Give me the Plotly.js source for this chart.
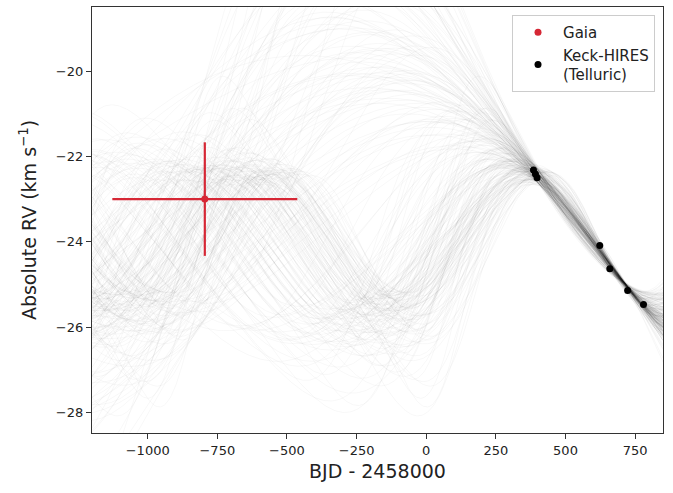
<!DOCTYPE html>
<html>
<head>
<meta charset="utf-8">
<script src="https://cdn.plot.ly/plotly-3.0.1.min.js"></script>
<style>
  html, body { margin: 0; padding: 0; background: #ffffff; }
  #chart { width: 673px; height: 493px; }
</style>
</head>
<body>
<div id="chart"></div>
<script>
// Keck-HIRES (telluric) radial velocities, BJD - 2458000 and km/s
const keckTime = [385, 392, 398, 623, 659, 723, 780];
const keckRV   = [-22.32, -22.41, -22.50, -24.09, -24.63, -25.14, -25.47];
const keckErr  = 0.12;

// Gaia DR2 radial velocity (epoch span shown as horizontal bar)
const gaiaTime = [-795];
const gaiaRV   = [-23.0];
const gaiaTimeErr = [332];
const gaiaRVErr   = [1.33];

// Orbit samples: periods (d), velocity at the Gaia epoch, orbit shapes
// (eccentricity, periastron phase from BJD 2458600) and offsets between
// the 2018 and 2019 Keck seasons, used in turn
const periods = [860, 880, 900, 920, 940, 960, 980, 1000, 1020, 1040, 1060, 1080,
                 1100, 1125, 1150, 1175, 1200, 1230, 1260, 1300, 1340, 1390, 1440,
                 1500, 1570, 1650, 1740, 1840, 1960, 2100, 2260, 2450, 2680, 2950,
                 3300, 3750, 4300];
const gaiaDraws = [-25.8, -25.3, -24.8, -24.3, -23.8, -23.3, -22.8, -22.5,
                   -22.2, -21.6, -20.8, -20.2];
const gaiaDrawErr = 0.25;
const shapeEcc   = [0, 0.15, 0.12, 0.2, 0.08, 0.25, 0.1];
const shapePhase = [0, 0.0, 0.3, 0.55, 0.8, 0.45, 0.65];
const seasonOffset = [0, -0.16, 0.16, -0.08, 0.08];

const xTicks = [-1000, -750, -500, -250, 0, 250, 500, 750];
const yTicks = [-28, -26, -24, -22, -20];

// --- Keplerian helpers -------------------------------------------------
function trueAnomaly(t, P, e, tp) {
  let M = 2 * Math.PI * (t - tp) / P;
  M = M - 2 * Math.PI * Math.floor((M + Math.PI) / (2 * Math.PI));
  let E = M + e * Math.sin(M);
  for (let i = 0; i < 12; i++) {
    E = E - (E - e * Math.sin(E) - M) / (1 - e * Math.cos(E));
  }
  return 2 * Math.atan2(Math.sqrt(1 + e) * Math.sin(E / 2), Math.sqrt(1 - e) * Math.cos(E / 2));
}

function solve3(A, b) {
  const M = A.map((r, i) => r.concat([b[i]]));
  for (let i = 0; i < 3; i++) {
    let p = i;
    for (let r = i + 1; r < 3; r++) if (Math.abs(M[r][i]) > Math.abs(M[p][i])) p = r;
    if (Math.abs(M[p][i]) < 1e-12) return null;
    [M[i], M[p]] = [M[p], M[i]];
    for (let r = 0; r < 3; r++) {
      if (r === i) continue;
      const f = M[r][i] / M[i][i];
      for (let k = i; k < 4; k++) M[r][k] -= f * M[i][k];
    }
  }
  return [M[0][3] / M[0][0], M[1][3] / M[1][1], M[2][3] / M[2][2]];
}

// weighted least squares for v = c0 + c1 cos(nu) + c2 sin(nu)
function fitOrbit(P, e, tp, vGaia, dEarly) {
  const ts = keckTime.concat(gaiaTime);
  const vs = keckRV.map((v, i) => keckTime[i] < 500 ? v + dEarly : v).concat([vGaia]);
  const ss = keckTime.map(() => keckErr).concat([gaiaDrawErr]);
  const A = [[0,0,0],[0,0,0],[0,0,0]], b = [0,0,0];
  const rows = ts.map(t => {
    const nu = trueAnomaly(t, P, e, tp);
    return [1, Math.cos(nu), Math.sin(nu)];
  });
  rows.forEach((r, i) => {
    const w = 1 / (ss[i] * ss[i]);
    for (let j = 0; j < 3; j++) {
      b[j] += w * r[j] * vs[i];
      for (let k = 0; k < 3; k++) A[j][k] += w * r[j] * r[k];
    }
  });
  const c = solve3(A, b);
  if (!c) return null;
  let chi2 = 0;
  rows.forEach((r, i) => {
    const m = c[0] + c[1] * r[1] + c[2] * r[2];
    chi2 += Math.pow((vs[i] - m) / ss[i], 2);
  });
  return { c, chi2, K: Math.hypot(c[1], c[2]) };
}

// --- build orbit curves ------------------------------------------------
const tGrid = [];
for (let t = -1200; t <= 850; t += 5) tGrid.push(t);

const traces = [];
let k = 0;
periods.forEach(P => {
  gaiaDraws.forEach(vG => {
    const s = k % shapeEcc.length;
    const e = shapeEcc[s];
    const tp = 600 + shapePhase[s] * P;
    const d = seasonOffset[k % seasonOffset.length];
    k++;
    const f = fitOrbit(P, e, tp, vG, d);
    if (!f || f.chi2 > 26 || f.K > 6.5) return;
    traces.push({
      x: tGrid,
      y: tGrid.map(t => {
        const nu = trueAnomaly(t, P, e, tp);
        return f.c[0] + f.c[1] * Math.cos(nu) + f.c[2] * Math.sin(nu);
      }),
      type: 'scatter', mode: 'lines',
      line: { color: 'rgba(40,40,40,0.032)', width: 1 },
      hoverinfo: 'skip', showlegend: false
    });
  });
});

traces.push({
  x: gaiaTime, y: gaiaRV, name: 'Gaia',
  type: 'scatter', mode: 'markers',
  marker: { color: '#d62735', size: 7 },
  error_x: { type: 'data', array: gaiaTimeErr, color: '#d62735', thickness: 2.2, width: 0 },
  error_y: { type: 'data', array: gaiaRVErr, color: '#d62735', thickness: 2.2, width: 0 }
});
traces.push({
  x: keckTime, y: keckRV, name: 'Keck-HIRES<br>(Telluric)',
  type: 'scatter', mode: 'markers',
  marker: { color: '#000000', size: 7 }
});

const axisCommon = {
  showgrid: false, zeroline: false, showline: true, mirror: true,
  linecolor: '#333333', linewidth: 1.2,
  ticks: 'outside', ticklen: 5, tickwidth: 1, tickcolor: '#333333',
  tickfont: { family: 'DejaVu Sans', size: 13, color: '#222222' }
};

const layout = {
  width: 673, height: 493,
  margin: { l: 92, r: 10, t: 7, b: 60 },
  paper_bgcolor: '#ffffff', plot_bgcolor: '#ffffff',
  font: { family: 'DejaVu Sans', color: '#222222' },
  xaxis: Object.assign({}, axisCommon, {
    range: [-1200, 850], tickvals: xTicks,
    title: { text: 'BJD - 2458000', font: { family: 'DejaVu Sans', size: 19, color: '#222222' }, standoff: 8 }
  }),
  yaxis: Object.assign({}, axisCommon, {
    range: [-28.48, -18.5], tickvals: yTicks,
    title: { text: 'Absolute RV (km s<sup>−1</sup>)', font: { family: 'DejaVu Sans', size: 19, color: '#222222' }, standoff: 14 }
  }),
  legend: {
    x: 0.986, y: 0.981, xanchor: 'right', yanchor: 'top',
    bgcolor: 'rgba(255,255,255,0.9)', bordercolor: '#cccccc', borderwidth: 1,
    font: { family: 'DejaVu Sans', size: 15, color: '#222222' },
    itemwidth: 40, tracegroupgap: 4
  },
  showlegend: true
};

Plotly.newPlot('chart', traces, layout, { displayModeBar: false, staticPlot: true });
</script>
</body>
</html>
